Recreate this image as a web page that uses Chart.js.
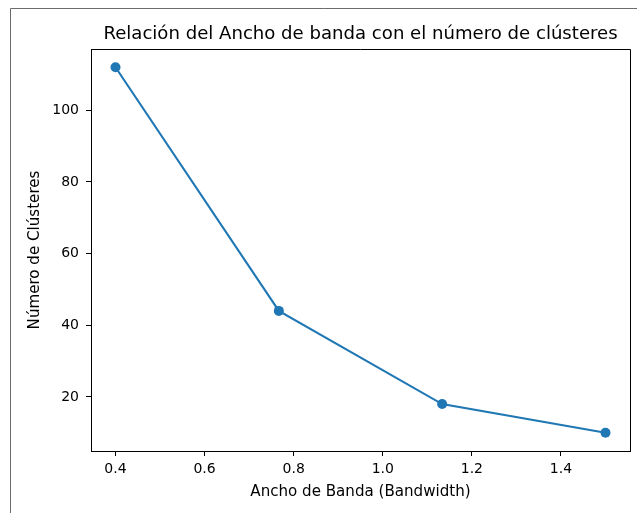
<!DOCTYPE html>
<html>
<head>
<meta charset="utf-8">
<script src="https://cdn.jsdelivr.net/npm/chart.js@4/dist/chart.umd.min.js"></script>
<style>
  html, body { margin: 0; padding: 0; background: #fff; }
  canvas { display: block; }
</style>
</head>
<body>
<canvas id="chart" width="637" height="513"></canvas>
<script>
const bandwidths = [0.4, 0.7667, 1.1333, 1.5];
const clusters = [112, 44, 18, 10];
const xTicks = [0.4, 0.6, 0.8, 1.0, 1.2, 1.4];
const yTicks = [20, 40, 60, 80, 100];

const titleText = 'Relación del Ancho de banda con el número de clústeres';
const xLabel = 'Ancho de Banda (Bandwidth)';
const yLabel = 'Número de Clústeres';

const FONT = 'DejaVu Sans';

// frame of the screenshot + top/right spines + title
const extras = {
    id: 'extras',
    beforeDraw(chart) {
        const c = chart.ctx;
        c.save();
        c.strokeStyle = '#6b6b6b';
        c.lineWidth = 1;
        c.beginPath();
        c.moveTo(10.5, 513);
        c.lineTo(10.5, 8.5);
        c.lineTo(637, 8.5);
        c.stroke();
        c.restore();
    },
    beforeDatasetsDraw(chart) {
        const a = chart.chartArea;
        const c = chart.ctx;
        c.save();
        c.strokeStyle = '#000';
        c.lineWidth = 1;
        c.beginPath();
        c.moveTo(a.left, a.top + 0.5);
        c.lineTo(a.right + 0.5, a.top + 0.5);
        c.lineTo(a.right + 0.5, a.bottom);
        c.stroke();
        c.restore();
    },
    afterDraw(chart) {
        const a = chart.chartArea;
        const c = chart.ctx;
        c.save();
        c.fillStyle = '#000';
        c.font = '18.1px "' + FONT + '"';
        c.textAlign = 'center';
        c.textBaseline = 'middle';
        c.fillText(titleText, (a.left + a.right) / 2, 34);
        c.restore();
    }
};

new Chart(document.getElementById('chart'), {
    type: 'line',
    data: {
        datasets: [{
            data: bandwidths.map((x, i) => ({ x: x, y: clusters[i] })),
            borderColor: '#1f77b4',
            backgroundColor: '#1f77b4',
            borderWidth: 2.1,
            pointRadius: 5,
            pointHoverRadius: 5,
            pointBorderWidth: 0,
            tension: 0
        }]
    },
    options: {
        responsive: false,
        animation: false,
        devicePixelRatio: 1,
        layout: { padding: { top: 49, right: 7, left: 0, bottom: 0 } },
        plugins: {
            legend: { display: false },
            tooltip: { enabled: false },
            title: { display: false }
        },
        scales: {
            x: {
                type: 'linear',
                min: 0.345,
                max: 1.555,
                afterBuildTicks: s => { s.ticks = xTicks.map(v => ({ value: v })); },
                afterFit: s => { s.height = 62; },
                grid: { drawOnChartArea: false, drawTicks: true, tickLength: 5, tickColor: '#000', tickWidth: 1 },
                border: { display: true, color: '#000', width: 1 },
                ticks: {
                    color: '#000',
                    padding: 5,
                    maxRotation: 0,
                    font: { family: FONT, size: 14 },
                    callback: v => v.toFixed(1)
                },
                title: {
                    display: true,
                    text: xLabel,
                    color: '#000',
                    font: { family: FONT, size: 15.1 },
                    padding: { top: 0, bottom: 12 }
                }
            },
            y: {
                type: 'linear',
                min: 4.9,
                max: 117.1,
                afterBuildTicks: s => { s.ticks = yTicks.map(v => ({ value: v })); },
                afterFit: s => { s.width = 91; },
                grid: { drawOnChartArea: false, drawTicks: true, tickLength: 5, tickColor: '#000', tickWidth: 1 },
                border: { display: true, color: '#000', width: 1 },
                ticks: {
                    color: '#000',
                    padding: 7,
                    font: { family: FONT, size: 14 }
                },
                title: {
                    display: true,
                    text: yLabel,
                    color: '#000',
                    font: { family: FONT, size: 15.1 },
                    padding: { top: 26, bottom: 0 }
                }
            }
        }
    },
    plugins: [extras]
});
</script>
</body>
</html>
